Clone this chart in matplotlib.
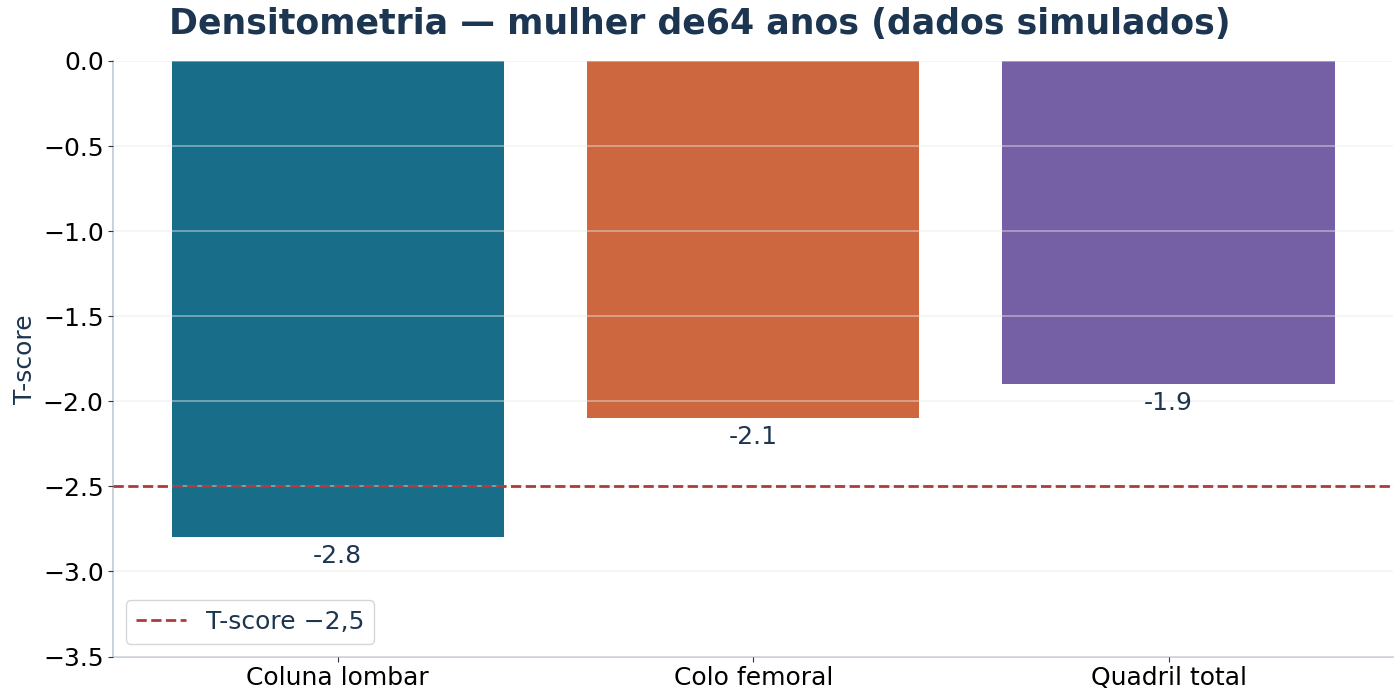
import matplotlib
matplotlib.use('Agg')
import matplotlib.pyplot as plt

# dados simulados
regioes = ['Coluna lombar', 'Colo femoral', 'Quadril total']
t_scores = [-2.8, -2.1, -1.9]
cores = ['#186e89', '#cc673f', '#7560a5']
limiar = -2.5

fig, ax = plt.subplots(figsize=(14, 7), dpi=100)

x = range(len(regioes))
ax.bar(x, t_scores, width=0.8, color=cores, zorder=1)
ax.axhline(limiar, color='#b03a3a', linestyle='--', linewidth=2, label='T-score \u22122,5', zorder=3)

# rótulos abaixo das barras
for xi, v in zip(x, t_scores):
    ax.text(xi, v - 0.04, f'{v}', ha='center', va='top', fontsize=18, color='#1c3550')

ax.set_xticks(list(x))
ax.set_xticklabels(regioes, fontsize=18)
ax.tick_params(axis='y', labelsize=18)
ax.set_xlim(-0.54, 2.54)
ax.set_ylim(-3.5, 0.0)
ax.set_ylabel('T-score', fontsize=18, color='#1c3550')
fig.suptitle('Densitometria \u2014 mulher de64 anos (dados simulados)', fontsize=25,
             fontweight='bold', color='#1c3550', x=0.5, y=0.966, va='center')

ax.yaxis.grid(True, color='#e8e8e8', alpha=0.5, linewidth=1.2, zorder=2)
ax.set_axisbelow(False)
for s in ['top', 'right']:
    ax.spines[s].set_visible(False)
for s in ['left', 'bottom']:
    ax.spines[s].set_color('#c0cad5')
    ax.spines[s].set_linewidth(1.2)
ax.tick_params(colors='#333333', labelcolor='black')

leg = ax.legend(loc='lower left', fontsize=18, frameon=True)
for t in leg.get_texts():
    t.set_color('#1c3550')

plt.subplots_adjust(left=0.081, right=0.995, top=0.913, bottom=0.062)
plt.savefig('out.png', dpi=100)
